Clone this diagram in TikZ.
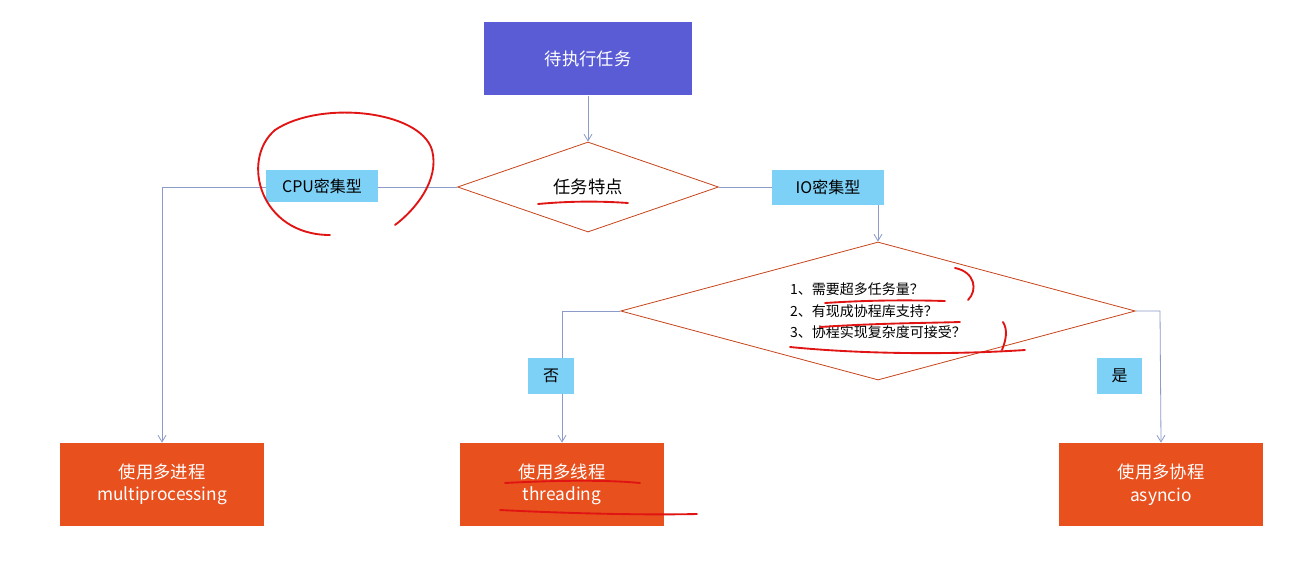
\documentclass[tikz,border=0pt]{standalone}
\usepackage{fontspec}
\setmainfont{Noto Sans CJK SC}
\usetikzlibrary{shapes.geometric,arrows.meta}
\definecolor{taskblue}{RGB}{90,92,214}
\definecolor{tagblue}{RGB}{125,208,246}
\definecolor{endred}{RGB}{232,80,30}
\definecolor{lineblue}{RGB}{140,155,200}
\definecolor{penred}{RGB}{225,20,20}
\tikzset{every picture/.style={line width=0.75pt}}
\tikzset{
  taskbox/.style={fill=taskblue,text=white,minimum width=156pt,minimum height=55pt,inner sep=0pt,font=\fontsize{13}{15}\selectfont},
  endbox/.style={fill=endred,text=white,minimum width=153pt,minimum height=62pt,inner sep=0pt,align=center,font=\fontsize{13}{17}\selectfont},
  tagbox/.style={fill=tagblue,inner sep=0pt,font=\fontsize{12}{14}\selectfont},
  decide/.style={diamond,draw=endred!85!black,line width=0.6pt,fill=white,inner sep=0pt},
  flow/.style={draw=lineblue,line width=0.6pt,-{Straight Barb[length=5pt,width=6pt]}},
  pen/.style={draw=penred,line width=1.4pt,line cap=round},
}
\begin{document}
\begin{tikzpicture}[x=0.75pt,y=0.75pt,yscale=-1,xscale=1]
\useasboundingbox[fill=white] (0,0) rectangle (1302,565);

% boxes
\node [taskbox] (task) at (588,58.5) {待执行任务};
\node [decide,minimum width=195.75pt,minimum height=67.5pt,aspect=2.9,font=\fontsize{13}{15}\selectfont] (kind) at (588,187) {任务特点};
\node [decide,minimum width=386pt,minimum height=103.5pt,aspect=3.73,align=left,font=\fontsize{10.5}{16}\selectfont] (ask) at (878,311) {1、需要超多任务量？\\2、有现成协程库支持？\\3、协程实现复杂度可接受？};
\node [endbox] (proc) at (162,484.5) {使用多进程\\multiprocessing};
\node [endbox] (thread) at (562,484.5) {使用多线程\\threading};
\node [endbox] (coro) at (1161,484.5) {使用多协程\\asyncio};

% connectors
\coordinate (cl) at (162,187);
\coordinate (cr) at (878,187);
\coordinate (al) at (562,311);
\coordinate (ar) at (1160,311);
\draw [flow] (task.south) -- (kind.north);
\draw [flow] (kind.west) -- (cl) -- (proc.north);
\draw [flow] (kind.east) -- (cr) -- (ask.north);
\draw [flow] (ask.west) -- (al) -- (thread.north);
\draw [flow] (ask.east) -- (ar) -- (coro.north);

% tags
\node [tagbox,minimum width=84pt,minimum height=24pt] (cpu) at (322,186) {CPU密集型};
\node [tagbox,minimum width=84pt,minimum height=26pt] (io) at (828,187.5) {IO密集型};
\node [tagbox,minimum width=34pt,minimum height=27pt] (no) at (551,376) {否};
\node [tagbox,minimum width=34pt,minimum height=27pt] (yes) at (1119.5,376) {是};

% hand marks
\draw [pen] (330,235) .. controls (260,235) and (240,160) .. (275,130) .. controls (320,100) and (420,110) .. (432,150) .. controls (440,180) and (415,210) .. (395,225);
\draw [pen] (538,204) .. controls (570,201) and (600,201) .. (628,203);
\draw [pen] (825,303) .. controls (870,300) and (910,300) .. (945,301);
\draw [pen] (955,268) .. controls (975,272) and (978,290) .. (968,300);
\draw [pen] (820,327) .. controls (880,323) and (930,323) .. (960,322);
\draw [pen] (790,347) .. controls (860,354) and (950,355) .. (1025,350);
\draw [pen] (1003,322) .. controls (1008,330) and (1006,340) .. (1002,350);
\draw [pen] (505,483) .. controls (560,480) and (610,480) .. (640,483);
\draw [pen] (500,510) .. controls (580,514) and (650,515) .. (697,514);

\end{tikzpicture}
\end{document}
